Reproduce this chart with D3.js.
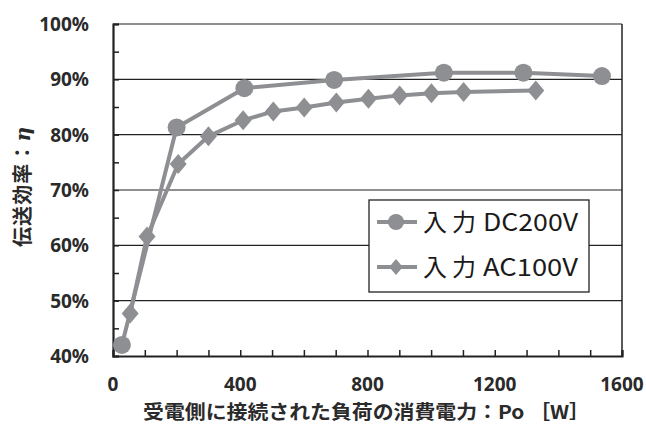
<!DOCTYPE html>
<html>
<head>
<meta charset="utf-8">
<script src="https://cdn.jsdelivr.net/npm/d3@7"></script>
<style>
  html, body { margin: 0; padding: 0; background: #fff; }
  svg { display: block; }
</style>
</head>
<body>
<svg id="chart" width="646" height="430"></svg>
<script>
// Load power Po [W] and transmission efficiency η [%] for each input supply
const dcPower = [28, 200, 413, 695, 1040, 1290, 1537];
const dcEff   = [42.0, 81.3, 88.4, 89.9, 91.2, 91.2, 90.6];
const acPower = [54, 107, 205, 300, 409, 504, 601, 702, 803, 901, 1001, 1102, 1329];
const acEff   = [47.7, 61.6, 74.7, 79.7, 82.6, 84.2, 84.9, 85.8, 86.5, 87.1, 87.5, 87.7, 88.0];
const seriesPrefix = "入力";
const seriesSupply = ["DC200V", "AC100V"];
const xTicks = [0, 400, 800, 1200, 1600];
const yTicks = [40, 50, 60, 70, 80, 90, 100];
const xTitle = "受電側に接続された負荷の消費電力：Po ［W］";
const yTitleMain = "伝送効率：";
const yTitleSym = "η";

const svg = d3.select("#chart");
const margin = { left: 113, right: 24, top: 24, bottom: 74 };
const W = 646, H = 430;
const x = d3.scaleLinear().domain([0, 1600]).range([margin.left, W - margin.right]);
const y = d3.scaleLinear().domain([40, 100]).range([H - margin.bottom, margin.top]);

const gray = "#8e8f93";
const tickFont = "'Noto Sans', 'DejaVu Sans', sans-serif";
const jpFont = "'Noto Sans CJK JP', sans-serif";

// Slightly tall diamond marker
const tallDiamond = {
  draw(context, size) {
    const h = Math.sqrt(size / 1.7);
    const w = h * 0.85;
    context.moveTo(0, -h);
    context.lineTo(w, 0);
    context.lineTo(0, h);
    context.lineTo(-w, 0);
    context.closePath();
  }
};

// Horizontal gridlines
svg.append("g")
  .selectAll("line")
  .data(yTicks.filter(d => d > 40))
  .join("line")
  .attr("x1", x(0)).attr("x2", x(1600))
  .attr("y1", d => y(d)).attr("y2", d => y(d))
  .attr("stroke", "#222").attr("stroke-width", 1.2);

// Right border
svg.append("line")
  .attr("x1", x(1600)).attr("x2", x(1600))
  .attr("y1", y(100)).attr("y2", y(40))
  .attr("stroke", "#222").attr("stroke-width", 1.5);

// Y axis: inward minor ticks every 5 %
const yAxis = d3.axisRight(y)
  .tickValues(d3.range(40, 100.1, 5))
  .tickSize(6)
  .tickFormat("");
const gy = svg.append("g").attr("transform", `translate(${x(0)},0)`).call(yAxis);
gy.select(".domain").attr("stroke", "#222").attr("stroke-width", 2.2);
gy.selectAll(".tick line").attr("stroke", "#222").attr("stroke-width", 1.5);

// X axis: inward minor ticks every 100 W
const xAxis = d3.axisTop(x)
  .tickValues(d3.range(0, 1600.1, 100))
  .tickSize(6)
  .tickFormat("");
const gx = svg.append("g").attr("transform", `translate(0,${y(40)})`).call(xAxis);
gx.select(".domain").attr("stroke", "#222").attr("stroke-width", 2.2);
gx.selectAll(".tick line").attr("stroke", "#222").attr("stroke-width", 1.5);

// Tick labels
svg.append("g")
  .selectAll("text")
  .data(yTicks)
  .join("text")
  .attr("x", 89).attr("y", d => y(d))
  .attr("dy", "0.36em")
  .attr("text-anchor", "end")
  .attr("font-family", tickFont).attr("font-weight", "bold")
  .attr("font-size", 19).attr("fill", "#2a2a2a")
  .text(d => d + "%");

svg.append("g")
  .selectAll("text")
  .data(xTicks)
  .join("text")
  .attr("x", d => x(d)).attr("y", 384)
  .attr("dy", "0.36em")
  .attr("text-anchor", "middle")
  .attr("font-family", tickFont).attr("font-weight", "bold")
  .attr("font-size", 19).attr("fill", "#2a2a2a")
  .text(d => d);

// Axis titles
svg.append("text")
  .attr("x", 143).attr("y", 412).attr("dy", "0.36em")
  .attr("font-family", jpFont).attr("font-weight", "bold")
  .attr("font-size", 19).attr("fill", "#2a2a2a")
  .attr("textLength", 447).attr("lengthAdjust", "spacingAndGlyphs")
  .text(xTitle);

const yt = svg.append("text")
  .attr("transform", "translate(23,187) rotate(-90)")
  .attr("dy", "0.36em")
  .attr("text-anchor", "middle")
  .attr("font-family", jpFont).attr("font-weight", "bold")
  .attr("font-size", 20).attr("fill", "#2a2a2a")
  .attr("textLength", 120).attr("lengthAdjust", "spacing");
yt.append("tspan").text(yTitleMain);
yt.append("tspan").attr("font-style", "italic").attr("font-family", "'DejaVu Serif', serif").text(yTitleSym);

// Series
const dc = dcPower.map((p, i) => ({ p, e: dcEff[i] }));
const ac = acPower.map((p, i) => ({ p, e: acEff[i] }));
const line = d3.line().x(d => x(d.p)).y(d => y(d.e));
const diamond = d3.symbol().type(tallDiamond).size(170);

const plot = svg.append("g");
plot.append("path").datum(ac).attr("d", line)
  .attr("fill", "none").attr("stroke", gray).attr("stroke-width", 4)
  .attr("stroke-linejoin", "round");
plot.append("path").datum(dc).attr("d", line)
  .attr("fill", "none").attr("stroke", gray).attr("stroke-width", 4)
  .attr("stroke-linejoin", "round");
plot.selectAll(".ac").data(ac).join("path").attr("class", "ac")
  .attr("transform", d => `translate(${x(d.p)},${y(d.e)})`)
  .attr("d", diamond).attr("fill", gray);
plot.selectAll(".dc").data(dc).join("circle").attr("class", "dc")
  .attr("cx", d => x(d.p)).attr("cy", d => y(d.e)).attr("r", 9)
  .attr("fill", gray);

// Legend
const lg = svg.append("g").attr("transform", "translate(369,200)");
lg.append("rect").attr("width", 220).attr("height", 92)
  .attr("fill", "#fff").attr("stroke", "#222").attr("stroke-width", 1.3);
const rows = [22, 67];
seriesSupply.forEach((supply, i) => {
  const g = lg.append("g").attr("transform", `translate(0,${rows[i]})`);
  g.append("line").attr("x1", 8).attr("x2", 48).attr("y1", 0).attr("y2", 0)
    .attr("stroke", gray).attr("stroke-width", 4);
  if (i === 0) {
    g.append("circle").attr("cx", 27).attr("cy", 0).attr("r", 8).attr("fill", gray);
  } else {
    g.append("path").attr("transform", "translate(27,0)")
      .attr("d", d3.symbol().type(tallDiamond).size(110)).attr("fill", gray);
  }
  const t = g.append("text").attr("y", 0).attr("dy", "0.36em")
    .attr("font-family", jpFont).attr("font-size", 24).attr("fill", "#1a1a1a");
  t.append("tspan").attr("x", 54).attr("letter-spacing", 5).text(seriesPrefix);
  t.append("tspan").attr("x", 114)
    .attr("textLength", 95).attr("lengthAdjust", "spacingAndGlyphs")
    .text(supply);
});
</script>
</body>
</html>
